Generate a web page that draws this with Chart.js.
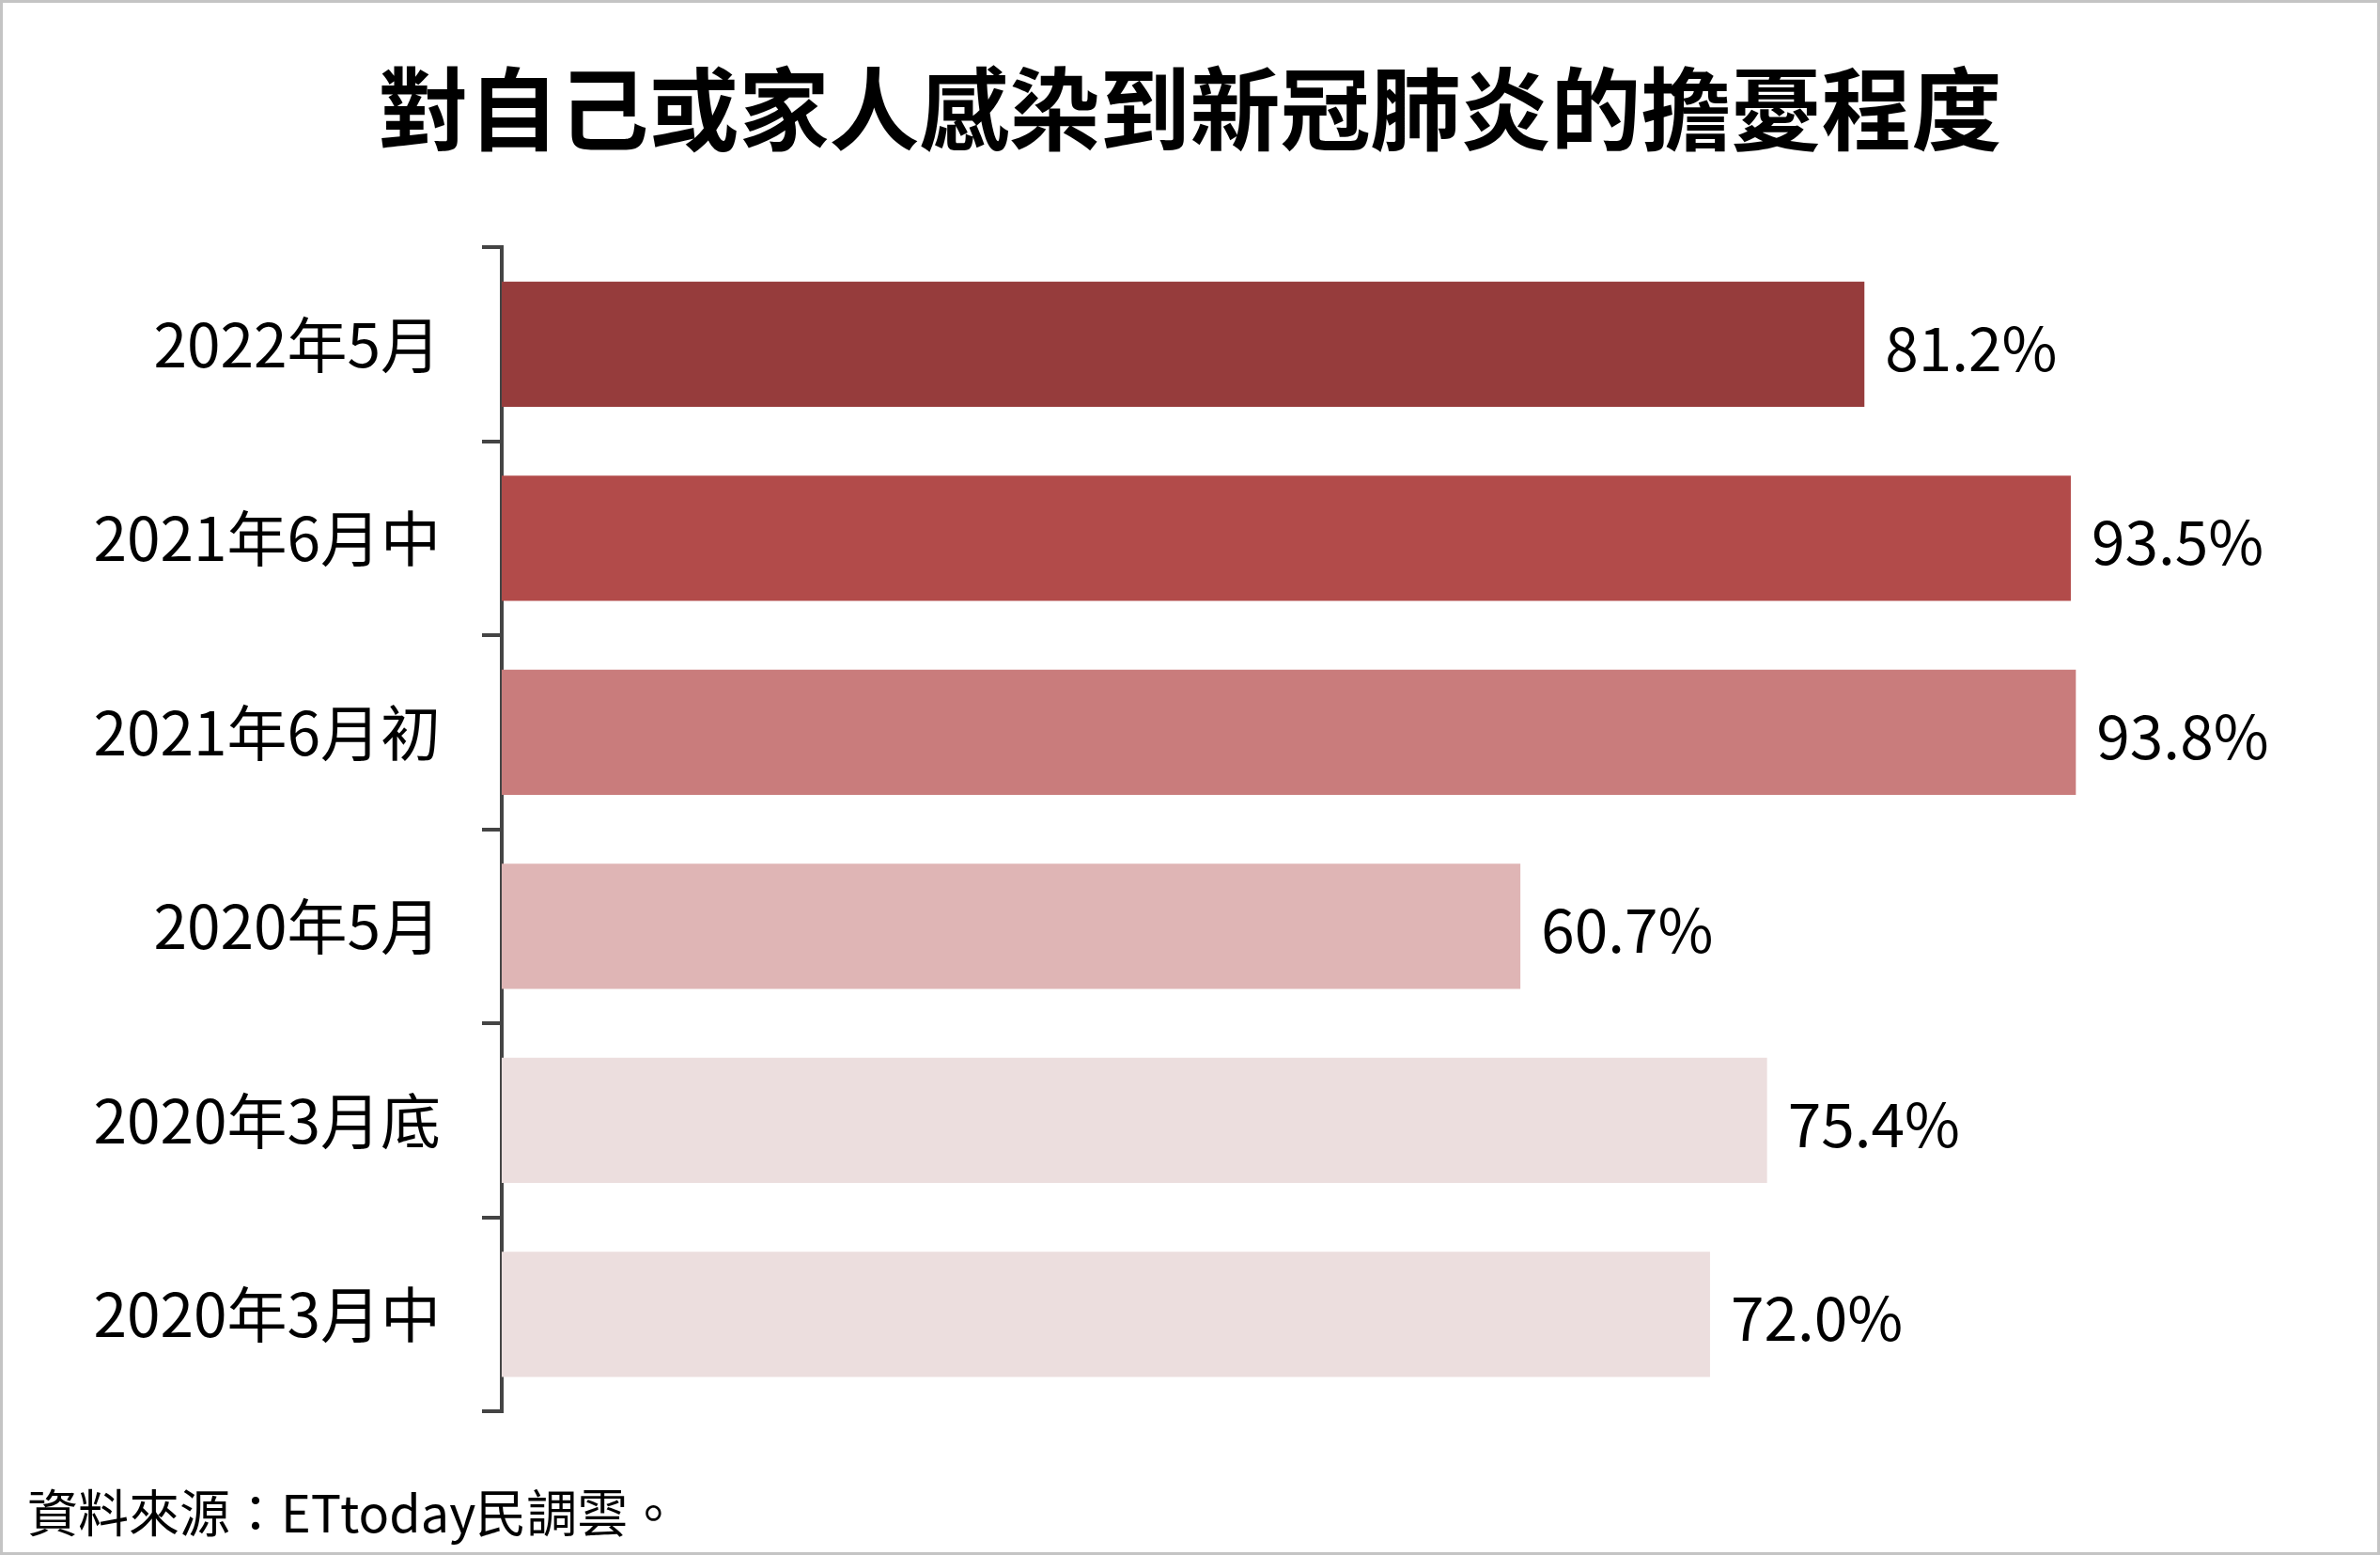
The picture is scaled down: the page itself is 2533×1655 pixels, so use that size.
<!DOCTYPE html>
<html>
<head>
<meta charset="utf-8">
<script src="https://cdn.jsdelivr.net/npm/chart.js@4"></script>
<style>
  body { margin: 0; background: #fff; }
  canvas { display: block; }
</style>
</head>
<body>
<canvas id="myChart" width="2533" height="1655"></canvas>
<script>
let canvas = document.getElementById('myChart');
let fontFamily = '"Noto Sans CJK TC", "Noto Sans", sans-serif';

let titleText = '對自己或家人感染到新冠肺炎的擔憂程度';
let sourceText = '資料來源：ETtoday民調雲。';
let categories = ['2022年5月', '2021年6月中', '2021年6月初', '2020年5月', '2020年3月底', '2020年3月中'];
let values = [81.2, 93.5, 93.8, 60.7, 75.4, 72.0];
let barColors = ['#963c3c', '#b24b4a', '#c97c7c', '#dfb5b5', '#ecdede', '#ecdede'];

// white background + thin gray frame
let framePlugin = {
    id: 'frame',
    beforeDraw: function (chart) {
        let ctx = chart.ctx;
        ctx.save();
        ctx.fillStyle = '#fff';
        ctx.fillRect(0, 0, chart.width, chart.height);
        ctx.strokeStyle = '#c4c4c4';
        ctx.lineWidth = 3;
        ctx.strokeRect(1.5, 1.5, chart.width - 3, chart.height - 3);
        ctx.restore();
    }
};

// percentage labels right of each bar
let valueLabels = {
    id: 'valueLabels',
    afterDatasetsDraw: function (chart) {
        let ctx = chart.ctx;
        let meta = chart.getDatasetMeta(0);
        ctx.save();
        ctx.font = '64px ' + fontFamily;
        ctx.fillStyle = '#000';
        ctx.textAlign = 'left';
        ctx.textBaseline = 'middle';
        for (let i = 0; i < meta.data.length; i++) {
            let bar = meta.data[i];
            ctx.fillText(values[i].toFixed(1) + '%', bar.x + 22, bar.y + 4);
        }
        ctx.restore();
    }
};

let barChart = new Chart(canvas, {
    type: 'bar',
    data: {
        labels: categories,
        datasets: [{
            data: values,
            backgroundColor: barColors,
            barPercentage: 0.645,
            categoryPercentage: 1
        }]
    },
    options: {
        indexAxis: 'y',
        responsive: false,
        animation: false,
        layout: {
            padding: { left: 29, right: 29, top: 0, bottom: 0 }
        },
        plugins: {
            legend: { display: false },
            tooltip: { enabled: false },
            title: {
                display: true,
                text: titleText,
                color: '#000',
                font: { family: fontFamily, size: 96, weight: 'bold' },
                padding: { top: 58, bottom: 90 }
            },
            subtitle: {
                display: true,
                text: sourceText,
                position: 'bottom',
                align: 'start',
                color: '#000',
                font: { family: fontFamily, size: 54, weight: 'normal' },
                padding: { top: 76, bottom: 12 }
            }
        },
        scales: {
            x: {
                display: false,
                min: 0,
                max: 110.3
            },
            y: {
                afterFit: function (scale) {
                    scale.width = 505;
                },
                grid: {
                    drawOnChartArea: false,
                    drawTicks: true,
                    tickLength: 21,
                    color: '#444',
                    lineWidth: 4
                },
                border: {
                    display: true,
                    color: '#444',
                    width: 4
                },
                ticks: {
                    color: '#000',
                    padding: 44,
                    font: { family: fontFamily, size: 64 }
                }
            }
        }
    },
    plugins: [framePlugin, valueLabels]
});
</script>
</body>
</html>
